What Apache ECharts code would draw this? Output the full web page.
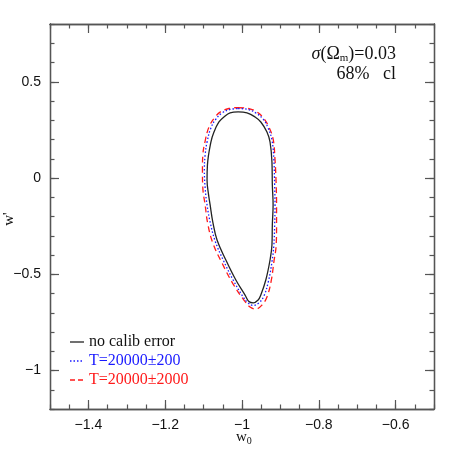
<!DOCTYPE html>
<html>
<head>
<meta charset="utf-8">
<script src="https://cdn.jsdelivr.net/npm/echarts@6/dist/echarts.min.js"></script>
<style>
  html, body { margin: 0; padding: 0; background: #fff; }
  #chart { width: 458px; height: 458px; }
</style>
</head>
<body>
<div id="chart"></div>
<script>
// contour points [w0, w']
const noCalib = [
  [-1.010, 0.343], [-0.987, 0.338], [-0.966, 0.317], [-0.951, 0.291], [-0.935, 0.239],
  [-0.927, 0.187], [-0.922, 0.083], [-0.921, -0.036], [-0.919, -0.140], [-0.921, -0.244],
  [-0.922, -0.348], [-0.927, -0.426], [-0.938, -0.530], [-0.951, -0.608], [-0.958, -0.634],
  [-0.971, -0.649], [-0.982, -0.642], [-0.992, -0.608], [-1.016, -0.530], [-1.042, -0.426],
  [-1.065, -0.322], [-1.076, -0.229], [-1.083, -0.140], [-1.087, -0.088], [-1.091, -0.010],
  [-1.090, 0.068], [-1.081, 0.187], [-1.073, 0.239], [-1.060, 0.291], [-1.047, 0.317],
  [-1.031, 0.338], [-1.010, 0.343]
]
const calib200 = [
  [-1.010, 0.361], [-0.984, 0.356], [-0.964, 0.338], [-0.945, 0.306], [-0.932, 0.260],
  [-0.922, 0.197], [-0.917, 0.094], [-0.915, -0.036], [-0.914, -0.140], [-0.915, -0.244],
  [-0.917, -0.348], [-0.922, -0.436], [-0.931, -0.535], [-0.943, -0.613], [-0.956, -0.649],
  [-0.971, -0.662], [-0.984, -0.649], [-0.997, -0.618], [-1.023, -0.530], [-1.049, -0.426],
  [-1.070, -0.327], [-1.083, -0.229], [-1.091, -0.140], [-1.096, -0.052], [-1.098, 0.042],
  [-1.096, 0.119], [-1.091, 0.187], [-1.081, 0.260], [-1.068, 0.306], [-1.052, 0.338],
  [-1.031, 0.356], [-1.010, 0.361]
]
const calib2000 = [
  [-1.010, 0.366], [-0.984, 0.361], [-0.961, 0.343], [-0.943, 0.309], [-0.930, 0.265],
  [-0.919, 0.203], [-0.914, 0.094], [-0.911, -0.036], [-0.910, -0.140], [-0.910, -0.244],
  [-0.911, -0.348], [-0.917, -0.436], [-0.924, -0.535], [-0.935, -0.618], [-0.948, -0.660],
  [-0.964, -0.681], [-0.979, -0.670], [-0.995, -0.634], [-1.023, -0.551], [-1.052, -0.442],
  [-1.076, -0.338], [-1.089, -0.239], [-1.096, -0.140], [-1.102, -0.052], [-1.103, 0.042],
  [-1.102, 0.119], [-1.096, 0.192], [-1.086, 0.265], [-1.070, 0.317], [-1.055, 0.345],
  [-1.034, 0.361], [-1.010, 0.366]
]

const xMajor = [-1.4, -1.2, -1, -0.8, -0.6]
const yMajor = [-1, -0.5, 0, 0.5]
const legendNames = ['no calib error', 'T=20000±200', 'T=20000±2000']

const frame = '#555'
const labelFont = 'Liberation Sans'
const serif = 'Liberation Serif'
const fmt = v => String(v).replace('-', '\u2212')

const chart = echarts.init(document.getElementById('chart'))

function xAx(pos, major, withLabels) {
  return {
    type: 'value', position: pos, min: -1.5, max: -0.5,
    interval: major ? undefined : 0.05,
    axisLine: { show: true, onZero: false, lineStyle: { color: frame, width: 1.3 } },
    axisTick: major
      ? { show: true, inside: true, length: 9, customValues: xMajor, lineStyle: { color: frame, width: 1.2 } }
      : { show: true, inside: true, length: 4.5, lineStyle: { color: frame, width: 1.2 } },
    axisLabel: major && withLabels
      ? { show: true, customValues: xMajor, margin: 9, fontFamily: labelFont, fontSize: 14, color: '#111', formatter: fmt }
      : { show: false },
    splitLine: { show: false }
  }
}
function yAx(pos, major, withLabels) {
  return {
    type: 'value', position: pos, min: -1.2, max: 0.8,
    interval: major ? undefined : 0.1,
    axisLine: { show: true, onZero: false, lineStyle: { color: frame, width: 1.3 } },
    axisTick: major
      ? { show: true, inside: true, length: 9, customValues: yMajor, lineStyle: { color: frame, width: 1.2 } }
      : { show: true, inside: true, length: 4.5, lineStyle: { color: frame, width: 1.2 } },
    axisLabel: major && withLabels
      ? { show: true, customValues: yMajor, margin: 9, fontFamily: labelFont, fontSize: 14, color: '#111', formatter: fmt }
      : { show: false },
    splitLine: { show: false }
  }
}

const option = {
  animation: false,
  backgroundColor: '#fff',
  grid: { left: 50, right: 24, top: 24, bottom: 49 },
  xAxis: [xAx('bottom', true, true), xAx('bottom', false), xAx('top', true), xAx('top', false)],
  yAxis: [yAx('left', true, true), yAx('left', false), yAx('right', true), yAx('right', false)],
  series: [
    {
      name: legendNames[2], type: 'line', data: calib2000, smooth: 0.4, showSymbol: false,
      lineStyle: { color: '#ff1a1a', width: 1.3, type: [6, 4] }
    },
    {
      name: legendNames[1], type: 'line', data: calib200, smooth: 0.4, showSymbol: false,
      lineStyle: { color: '#1a1aff', width: 1.3, type: [1.5, 2] }
    },
    {
      name: legendNames[0], type: 'line', data: noCalib, smooth: 0.4, showSymbol: false,
      lineStyle: { color: '#222', width: 1.3 }
    }
  ],
  graphic: [
    // axis titles
    {
      type: 'text', left: 236, top: 430,
      style: {
        text: '{b|w}{s|0}', rich: {
          b: { fontFamily: serif, fontSize: 15, fill: '#111' },
          s: { fontFamily: serif, fontSize: 10, fill: '#111', verticalAlign: 'bottom', padding: [8, 0, 0, 0] }
        }
      }
    },
    {
      type: 'text', x: 2, y: 219, rotation: Math.PI / 2,
      style: { text: "w'", fontFamily: serif, fontSize: 15, fill: '#111', align: 'center', verticalAlign: 'top' }
    },
    // annotation
    {
      type: 'text', right: 62, top: 45,
      style: {
        text: '{i|σ}{t|(Ω}{s|m}{t|)=0.03}', align: 'right', rich: {
          i: { fontFamily: serif, fontStyle: 'italic', fontSize: 18, fill: '#111' },
          t: { fontFamily: serif, fontSize: 18, fill: '#111' },
          s: { fontFamily: serif, fontSize: 11, fill: '#111', padding: [9, 0, 0, 0] }
        }
      }
    },
    {
      type: 'text', right: 62, top: 65,
      style: { text: '68%   cl', fontFamily: serif, fontSize: 18, fill: '#111', align: 'right' }
    },
    // legend
    { type: 'line', shape: { x1: 70, y1: 342, x2: 84, y2: 342 }, style: { stroke: '#222', lineWidth: 1.3 } },
    { type: 'line', shape: { x1: 70, y1: 361, x2: 84, y2: 361 }, style: { stroke: '#1a1aff', lineWidth: 1.3, lineDash: [1.5, 2] } },
    { type: 'line', shape: { x1: 70, y1: 380, x2: 84, y2: 380 }, style: { stroke: '#ff1a1a', lineWidth: 1.3, lineDash: [5, 3] } },
    { type: 'text', left: 89, top: 334, style: { text: legendNames[0], fontFamily: serif, fontSize: 16, fill: '#111' } },
    { type: 'text', left: 89, top: 353, style: { text: legendNames[1], fontFamily: serif, fontSize: 16, fill: '#1a1aff' } },
    { type: 'text', left: 89, top: 372, style: { text: legendNames[2], fontFamily: serif, fontSize: 16, fill: '#ff1a1a' } }
  ]
}

chart.setOption(option)
</script>
</body>
</html>
